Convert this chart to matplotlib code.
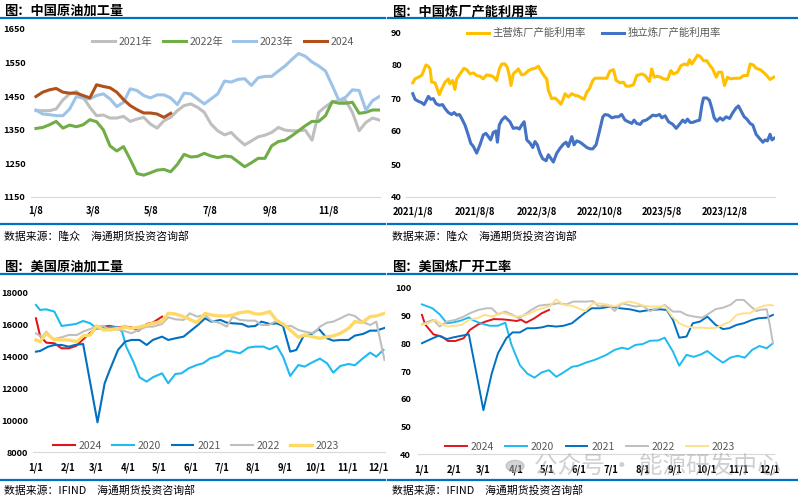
import numpy as np
import pandas as pd
import matplotlib
matplotlib.use("Agg")
import matplotlib.pyplot as plt
from matplotlib.lines import Line2D

plt.rcParams["font.family"] = ["Noto Sans CJK SC", "DejaVu Sans"]

# ---------------- data ----------------
# China crude runs (weekly, from 1/8)
cn_runs_2021 = [1407, 1407, 1407, 1412, 1439, 1457, 1464, 1447, 1417, 1392, 1394, 1385, 1385, 1390, 1375, 1382,
                1387, 1367, 1355, 1377, 1387, 1407, 1422, 1427, 1417, 1402, 1367, 1347, 1335, 1342, 1322, 1305,
                1317, 1329, 1334, 1342, 1357, 1349, 1347, 1347, 1349, 1319, 1402, 1419, 1432, 1437, 1437, 1402,
                1347, 1372, 1385, 1379]
cn_runs_2022 = [1354, 1357, 1365, 1375, 1355, 1364, 1359, 1365, 1380, 1374, 1350, 1302, 1287, 1300, 1262, 1220,
                1215, 1222, 1230, 1232, 1225, 1247, 1277, 1269, 1271, 1280, 1272, 1267, 1272, 1270, 1255, 1240,
                1252, 1265, 1265, 1302, 1315, 1319, 1332, 1347, 1362, 1375, 1375, 1392, 1434, 1429, 1429, 1432,
                1399, 1402, 1409, 1409]
cn_runs_2023 = [1409, 1397, 1395, 1392, 1392, 1412, 1449, 1444, 1442, 1452, 1457, 1442, 1419, 1432, 1472, 1467,
                1452, 1445, 1454, 1454, 1445, 1425, 1459, 1457, 1442, 1427, 1442, 1457, 1495, 1492, 1500, 1502,
                1482, 1505, 1509, 1509, 1525, 1540, 1559, 1577, 1569, 1552, 1540, 1525, 1482, 1437, 1447, 1469,
                1467, 1409, 1437, 1449]
cn_runs_2024 = [1449, 1462, 1469, 1473, 1462, 1459, 1459, 1452, 1445, 1484, 1479, 1475, 1462, 1440, 1422, 1410,
                1400, 1400, 1397, 1387, 1399]
cn_runs_ticks = ["1/8", "3/8", "5/8", "7/8", "9/8", "11/8"]

# China refinery utilisation (weeks since 2021/1/8)
main_wk = [0, 1.1, 2.7, 4.3, 5.5, 6.4, 7.6, 8.4, 9.2, 10.8, 11.6, 12.9, 14.1, 15.7, 17.3, 18.1, 19.4, 20.5, 21.4,
           23.0, 24.9, 26.2, 27.9, 29.5, 31.1, 32.7, 34.3, 35.9, 37.9, 39.5, 40.8, 42.1, 43.3, 44.9, 46.0, 47.0,
           47.8, 48.9, 50.6, 51.4, 53.0, 54.6, 56.3, 57.9, 59.5, 61.1, 62.8, 64.4, 65.2, 66.0, 67.6, 69.3, 70.9,
           72.0, 73.3, 74.1, 75.7, 77.4, 79.0, 80.6, 82.2, 83.4, 84.7, 86.0, 87.6, 88.7,
           91.2, 94.4, 96.0, 97.7, 99.0, 100.9, 102.5, 103.8, 105.5, 107.4, 109.0, 111.5, 113.1, 115.2, 116.3,
           117.5, 118.8, 120.7, 122.0, 124.0, 125.6, 126.9, 128.8, 130.5, 132.1, 133.7, 134.7, 135.8, 137.4,
           138.6, 139.9, 141.5, 143.1, 144.7, 146.0, 147.7, 148.8, 150.4, 151.7, 153.2, 154.8, 156.9, 159.3,
           160.9, 162.9, 164.2, 165.8, 167.1, 169.1, 170.7, 172.3, 173.9, 175.6]
main_val = [74.6, 75.8, 76.3, 76.8, 78.6, 80, 79.6, 78.8, 74.8, 74.6, 73.3, 71, 72.8, 74.8, 75.8, 74.3, 75.3, 72.6,
            75.8, 77.3, 79.0, 78.6, 77.3, 77.6, 76.8, 76.6, 75.8, 77, 76.8, 76.3, 75.3, 78.8, 80.3, 80.3, 79.3,
            76.8, 73.8, 77.3, 78.3, 78.8, 77, 77.3, 78.3, 78.8, 79, 79.6, 77.8, 76.3, 75.8, 72.3, 69.8, 70, 69,
            68.1, 69.8, 71.3, 70.3, 71.3, 70.8, 70.6, 70, 69.6, 71.8, 72.8, 75.3, 76,
            76, 76, 78.2, 78.6, 75.3, 74.6, 74.8, 73.6, 73.6, 74, 76.8, 77.3, 76.8, 75, 78.8, 76.3, 76.6, 76.3,
            75.8, 75.6, 78.3, 77.3, 77.8, 79.8, 80.3, 80, 81.6, 80.3, 81.8, 83, 82.6, 81.3, 81.3, 79.8, 78.8,
            76.3, 77.8, 77.8, 73.8, 76.3, 75.8, 76, 76, 76.8, 76.8, 80.3, 80, 79, 78.6, 77.8, 76.8, 75.6, 76.3]
ind_wk = [0, 1.1, 2.7, 4.3, 5.5, 6.4, 7.6, 8.7, 10.0, 11.3, 12.9, 14.5, 15.7, 17.3, 18.9, 20.1, 21.4, 22.7, 23.8,
          25.4, 27.0, 28.2, 29.5, 31.1, 32.7, 34.3, 35.6, 36.8, 37.9, 39.2, 40.5, 41.2, 42.1, 43.3, 44.9, 46.0,
          47.3, 48.9, 50.6, 51.9, 53.0, 54.2, 55.5, 57.1, 58.4, 59.5, 60.6, 61.9, 63.2, 64.9, 66.0, 67.1, 68.4,
          70.1, 71.7, 73.3, 74.6, 75.7, 77.4, 78.5, 79.8, 81.4, 83.1, 84.7, 86.3, 87.6, 89.2, 90.8,
          92.5, 93.6, 95.2, 96.9, 98.5, 100.1, 101.7, 103.3, 104.9, 106.6, 107.7, 109.0, 110.7, 111.9, 113.6,
          115.2, 116.8, 118.4, 120.1, 121.2, 122.8, 124.5, 126.6, 128.2, 129.8, 131.4, 132.6, 133.7, 135.0,
          136.3, 137.9, 139.6, 140.7, 141.5, 143.1, 144.4, 145.6, 146.7, 148.0, 149.6, 150.9, 152.5, 154.2,
          155.8, 157.4, 158.5, 160.2, 161.3, 162.6, 164.2, 165.5, 167.1, 168.7, 170.4, 171.5, 172.6, 173.9,
          174.8, 175.9]
ind_val = [71.3, 69.6, 69, 68.6, 68, 69, 70.5, 69.6, 69.8, 68.3, 67.8, 68, 66.8, 65.6, 65, 65.6, 64.8, 65, 63.8,
           61.8, 58.8, 56.3, 55.3, 53.3, 55.8, 58.8, 59.3, 58.3, 57.3, 59.6, 60, 56.6, 61.8, 63.3, 64.3, 63.6,
           62.8, 60.8, 61, 60.6, 61.8, 62.8, 57.3, 56.3, 55, 56.8, 55.8, 53.3, 51.6, 51, 52.8, 51.8, 50.6, 53.3,
           54.8, 56, 56.6, 55.3, 58.3, 55.8, 57, 56.6, 55.8, 55, 54.6, 54.6, 55.8, 59.8,
           64.3, 65, 64.8, 64, 64.3, 64.3, 65, 63.3, 62.8, 62.3, 63.3, 62.3, 62, 63, 63.3, 64, 64.8, 64.6, 65,
           64, 64.6, 62.8, 62, 60.8, 62, 63.3, 62.6, 63.6, 62.6, 62.6, 63, 63.3, 67.8, 70, 70, 69.3, 66.8, 64,
           63, 64, 63.3, 64.3, 63.8, 65.6, 67, 67.6, 65.6, 64.3, 63.6, 62.3, 61.8, 59, 57.8, 56.6, 57.3, 57,
           59, 57.3, 57.8]
util_ticks = ["2021/1/8", "2021/8/8", "2022/3/8", "2022/10/8", "2023/5/8", "2023/12/8"]

# US crude runs (day of year)
us_runs_2020_day = [0, 4, 10, 18, 25, 32, 39, 46, 53, 59, 66, 72, 79, 84, 88, 95, 101, 108, 114, 123, 129, 136,
                    142, 149, 157, 163, 170, 178, 186, 192, 199, 207, 214, 222, 228, 235, 241, 248, 256, 262,
                    269, 277, 284, 290, 297, 305, 311, 319, 326, 332, 339]
us_runs_2020 = [17208, 16896, 16937, 16792, 15896, 15958, 16021, 16208, 16062, 15750, 15687, 15812, 15812, 15541,
                14604, 13667, 12687, 12417, 12687, 12937, 12312, 12896, 12937, 13250, 13458, 13562, 13875, 14021,
                14354, 14292, 14187, 14542, 14604, 14604, 14437, 14646, 13979, 12771, 13458, 13354, 13604, 13854,
                13562, 12979, 13396, 13521, 13437, 13875, 14229, 13979, 14396]
us_runs_2021_day = [0, 4, 12, 18, 25, 32, 38, 46, 60, 67, 72, 80, 87, 93, 101, 108, 114, 123, 129, 136, 144, 150,
                    158, 165, 171, 180, 186, 192, 201, 207, 214, 220, 228, 235, 241, 248, 254, 261, 269, 276,
                    284, 290, 297, 305, 311, 319, 326, 332, 340]
us_runs_2021 = [14292, 14333, 14604, 14708, 14708, 14604, 14708, 14771, 9875, 12312, 13146, 14396, 14917, 15021,
                15021, 14708, 15021, 15229, 15021, 15125, 15229, 15541, 15958, 16375, 16167, 16271, 16104, 16062,
                16021, 15854, 15896, 16167, 16021, 16062, 15896, 14292, 14396, 15271, 15396, 15708, 15125, 14979,
                15021, 15021, 15292, 15396, 15604, 15604, 15771]
us_runs_2022_day = [0, 6, 10, 17, 25, 32, 40, 46, 53, 59, 66, 72, 79, 85, 93, 100, 108, 114, 123, 129, 136, 144,
                    150, 157, 165, 171, 180, 186, 192, 199, 207, 214, 220, 227, 235, 243, 249, 256, 262, 271,
                    277, 284, 290, 297, 305, 311, 318, 326, 332, 340]
us_runs_2022 = [15437, 15187, 15541, 15062, 15187, 15333, 15333, 15541, 15708, 15854, 15896, 15646, 15687, 15604,
                15437, 15646, 15854, 15854, 16021, 16437, 16312, 16271, 16687, 16479, 16583, 16229, 16062, 15854,
                16479, 16271, 16229, 16229, 15958, 15958, 16229, 15896, 15896, 15646, 15541, 15437, 15854, 16104,
                16167, 16375, 16625, 16521, 16167, 15958, 16167, 13771]
us_runs_2023_day = [0, 4, 10, 17, 25, 32, 40, 46, 53, 59, 66, 72, 79, 87, 93, 100, 108, 114, 123, 129, 136, 142,
                    150, 157, 165, 171, 179, 186, 192, 199, 207, 214, 220, 228, 235, 241, 248, 256, 262, 269,
                    277, 284, 290, 297, 305, 311, 318, 326, 332, 340]
us_runs_2023 = [15021, 14917, 15437, 15062, 15021, 15021, 14917, 15271, 15333, 15896, 15646, 15646, 15729, 15812,
                15750, 15812, 15958, 16062, 16167, 16687, 16646, 16521, 16312, 16104, 16687, 16583, 16521, 16521,
                16583, 16729, 16792, 16646, 16646, 16792, 16229, 16021, 15646, 15187, 15333, 15229, 15125, 15229,
                15271, 15437, 15750, 16167, 16104, 16479, 16521, 16687]
us_runs_2024_day = [0, 4, 10, 18, 25, 32, 39, 46, 53, 59, 66, 72, 79, 87, 93, 100, 108, 114, 123]
us_runs_2024 = [16375, 15271, 14854, 14812, 14500, 14500, 14646, 15062, 15479, 15750, 15854, 15896, 15812, 15854,
                15812, 15604, 16021, 16104, 16479]

# US refinery utilisation (day of year)
us_util_2020_day = [0, 10, 17, 24, 30, 37, 45, 49, 56, 65, 73, 80, 86, 94, 101, 108, 115, 122, 129, 136, 144, 150,
                    158, 165, 169, 177, 185, 192, 198, 205, 212, 219, 227, 233, 241, 247, 254, 261, 268, 274,
                    282, 289, 296, 303, 310, 317, 324, 331, 337]
us_util_2020 = [94, 92.6, 90.4, 87.2, 87.5, 88.1, 89.3, 88.3, 87.2, 86.3, 86.3, 87.4, 79.4, 72.1, 69.1, 67.6, 69.5,
                70.3, 67.9, 69.5, 71.5, 71.9, 73.1, 73.9, 74.5, 75.8, 77.6, 78.4, 77.9, 79.4, 79.7, 80.9, 81, 82,
                77, 71.9, 75.8, 75.1, 76, 77.2, 74.8, 73, 74.8, 75.5, 74.8, 77.6, 79, 78.2, 80]
us_util_2021_day = [0, 8, 16, 24, 30, 38, 45, 52, 59, 67, 73, 81, 87, 94, 101, 108, 115, 121, 129, 136, 144, 150,
                    157, 163, 171, 181, 190, 200, 209, 219, 229, 235, 241, 247, 254, 260, 267, 274, 282, 289,
                    295, 302, 309, 317, 323, 331, 337]
us_util_2021 = [80, 81.4, 82.7, 81.5, 82.1, 82.7, 83.2, 69.7, 55.9, 69.1, 76.4, 81.8, 83.9, 83.9, 85.4, 85.4, 85.7,
                86.3, 86, 86.3, 87.2, 89, 91.1, 92.6, 92.6, 93.2, 92.6, 92.2, 91.4, 92, 92.2, 92, 88.4, 82, 82.4,
                87.2, 87.8, 89.6, 86.6, 85.1, 85.4, 86.6, 87.2, 88.4, 89, 89.2, 90.2]
us_util_2022_day = [0, 6, 11, 17, 24, 32, 40, 46, 54, 62, 67, 73, 80, 86, 93, 99, 105, 112, 118, 125, 131, 139,
                    145, 152, 158, 164, 170, 175, 181, 185, 192, 198, 205, 212, 219, 227, 233, 241, 248, 254,
                    261, 269, 276, 282, 289, 296, 302, 309, 315, 321, 326, 331, 334, 337]
us_util_2022 = [86.8, 87.8, 88.4, 86, 87.8, 88.4, 89.6, 90.8, 92, 92.6, 92.6, 90.4, 91.4, 90.4, 89, 90.4, 92, 93.5,
                93.8, 94, 94.4, 94, 95, 95, 95, 95.2, 93.2, 93.5, 93.2, 91.6, 94.4, 93.8, 93.2, 93.5, 91.6, 92.6,
                93.8, 91.4, 91.4, 90.2, 89.6, 89.2, 90.8, 92.3, 92.8, 93.8, 95.6, 95.6, 93.5, 91.6, 92.1, 92.2,
                86.6, 80]
us_util_2023_day = [0, 6, 13, 19, 25, 32, 38, 45, 53, 60, 68, 76, 83, 89, 97, 104, 110, 116, 123, 129, 136, 144,
                    150, 157, 164, 170, 177, 185, 192, 199, 206, 213, 221, 229, 233, 240, 247, 254, 261, 269,
                    276, 283, 290, 296, 302, 309, 315, 322, 328, 334, 338]
us_util_2023 = [86.6, 87.2, 88.4, 86.8, 86, 86.3, 86.6, 88.4, 89, 90.2, 89.6, 91.1, 90.4, 89.6, 89.9, 90.8, 92,
                92.6, 93.4, 95.8, 93.8, 93.5, 92.6, 91.6, 94.4, 94.3, 94, 93.2, 94.4, 95, 94.4, 93.5, 93.2, 93.2,
                93.5, 89.6, 87.2, 86, 85.6, 85.6, 85.4, 85.6, 86.8, 87.8, 90.2, 90.8, 90.8, 92.6, 93.5, 93.8, 93.5]
us_util_2024_day = [0, 3, 11, 19, 25, 32, 40, 46, 54, 61, 69, 77, 83, 91, 95, 100, 108, 115, 122]
us_util_2024 = [90.2, 86.8, 83.2, 82.4, 80.8, 80.8, 81.8, 84.8, 86.8, 87.8, 88.7, 88.6, 88.4, 88, 88.5, 87.4, 89,
                90.8, 92]
month_ticks = ["1/1", "2/1", "3/1", "4/1", "5/1", "6/1", "7/1", "8/1", "9/1", "10/1", "11/1", "12/1"]

# ---------------- layout helpers ----------------
W, H = 798, 500
fig = plt.figure(figsize=(W / 100, H / 100), dpi=100)
BLUE = "#0070C0"


def px_axes(x0, y0, x1, y1):
    return fig.add_axes([x0 / W, 1 - y1 / H, (x1 - x0) / W, (y1 - y0) / H])


def hline(x0, x1, y):
    fig.add_artist(Line2D([x0 / W, x1 / W], [1 - y / H, 1 - y / H], transform=fig.transFigure,
                          color=BLUE, lw=1.6))


def ftext(x, y, s, **kw):
    fig.text(x / W, 1 - y / H, s, va="center", ha="left", **kw)


def frame(x0, x1, y_title, y_line, y_bot, y_src, title, source):
    ftext(x0 + 4, y_title, title, fontsize=9.5, fontweight="bold", color="black")
    hline(x0, x1, y_line)
    hline(x0, x1, y_bot)
    ftext(x0 + 4, y_src, source, fontsize=7.8, color="black")


def style(ax, ypad, xpad):
    for s in ["left", "right", "top"]:
        ax.spines[s].set_visible(False)
    ax.spines["bottom"].set_color("#D9D9D9")
    ax.tick_params(length=0)
    ax.tick_params(axis="y", pad=ypad, labelsize=6.6)
    ax.tick_params(axis="x", pad=xpad, labelsize=6.8)
    for lab in ax.get_xticklabels() + ax.get_yticklabels():
        lab.set_fontweight("bold")


def legend(ax, cx, cy, **kw):
    leg = ax.legend(loc="center", bbox_to_anchor=(cx / W, 1 - cy / H), bbox_transform=fig.transFigure,
                    frameon=False, fontsize=7.5, handletextpad=0.35, borderaxespad=0, **kw)
    for t in leg.get_texts():
        t.set_color("#595959")
    return leg


frame(0, 385, 11, 18, 224, 236, "图：中国原油加工量", "数据来源：隆众　海通期货投资咨询部")
frame(388, 798, 11, 18, 224, 236, "图：中国炼厂产能利用率", "数据来源：隆众　海通期货投资咨询部")
frame(0, 385, 267, 274, 480, 490, "图：美国原油加工量", "数据来源：IFIND　海通期货投资咨询部")
frame(388, 798, 267, 274, 480, 490, "图：美国炼厂开工率", "数据来源：IFIND　海通期货投资咨询部")

# ---------------- top-left: China crude runs ----------------
ax1 = px_axes(31, 29, 380, 197)
ax1.plot(np.arange(len(cn_runs_2021)), cn_runs_2021, color="#BFBFBF", lw=2.2, label="2021年")
ax1.plot(np.arange(len(cn_runs_2022)), cn_runs_2022, color="#70AD47", lw=2.2, label="2022年")
ax1.plot(np.arange(len(cn_runs_2023)), cn_runs_2023, color="#9DC3E6", lw=2.2, label="2023年")
ax1.plot(np.arange(len(cn_runs_2024)), cn_runs_2024, color="#B0501A", lw=2.2, label="2024")
ax1.set_ylim(1150, 1650)
ax1.set_yticks(np.arange(1150, 1651, 100))
ax1.set_xlim(-0.74, 51.1)
tick_dates = pd.to_datetime(["2023-" + t.replace("/", "-") for t in cn_runs_ticks], format="%Y-%m-%d")
ax1.set_xticks((tick_dates - pd.Timestamp("2023-01-08")).days / 7)
ax1.set_xticklabels(cn_runs_ticks)
style(ax1, 4, 6)
legend(ax1, 223, 42, ncol=4, handlelength=2.2, columnspacing=1.0)

# ---------------- top-right: China refinery utilisation ----------------
ax2 = px_axes(406, 32, 775, 197)
ax2.plot(main_wk, main_val, color="#FFC000", lw=2.2, label="主营炼厂产能利用率")
ax2.plot(ind_wk, ind_val, color="#4472C4", lw=2.2, label="独立炼厂产能利用率")
ax2.set_ylim(40, 90)
ax2.set_yticks(np.arange(40, 91, 10))
ax2.set_xlim(-3.3, 176.3)
util_dates = pd.to_datetime(util_ticks, format="%Y/%m/%d")
ax2.set_xticks((util_dates - util_dates[0]).days / 7)
ax2.set_xticklabels(util_ticks)
style(ax2, 3, 7)
legend(ax2, 594, 33, ncol=2, handlelength=2.1, columnspacing=1.6)

# ---------------- bottom-left: US crude runs ----------------
month_days = [0, 31, 59, 90, 120, 151, 181, 212, 243, 273, 304, 334]
ax3 = px_axes(33, 292.3, 385, 452.3)
ax3.plot(us_runs_2024_day, us_runs_2024, color="#E0161C", lw=1.5, label="2024")
ax3.plot(us_runs_2020_day, us_runs_2020, color="#1EBBF0", lw=1.5, label="2020")
ax3.plot(us_runs_2021_day, us_runs_2021, color="#0070C0", lw=1.5, label="2021")
ax3.plot(us_runs_2022_day, us_runs_2022, color="#BFBFBF", lw=1.5, label="2022")
ax3.plot(us_runs_2023_day, us_runs_2023, color="#FFD966", lw=2.4, label="2023")
ax3.set_ylim(8000, 18000)
ax3.set_yticks(np.arange(8000, 18001, 2000))
ax3.set_xlim(-2.9, 340.5)
ax3.set_xticks(month_days)
ax3.set_xticklabels(month_ticks)
style(ax3, 3.5, 7.5)
legend(ax3, 196, 446, ncol=5, handlelength=2.1, columnspacing=1.0)

# ---------------- bottom-right: US refinery utilisation ----------------
ax4 = px_axes(418, 287.7, 774, 454.3)
ax4.plot(us_util_2024_day, us_util_2024, color="#E0161C", lw=1.4, label="2024")
ax4.plot(us_util_2020_day, us_util_2020, color="#1EBBF0", lw=1.4, label="2020")
ax4.plot(us_util_2021_day, us_util_2021, color="#0070C0", lw=1.4, label="2021")
ax4.plot(us_util_2022_day, us_util_2022, color="#BFBFBF", lw=1.4, label="2022")
ax4.plot(us_util_2023_day, us_util_2023, color="#FFE08A", lw=1.4, label="2023")
ax4.set_ylim(40, 100)
ax4.set_yticks(np.arange(40, 101, 10))
ax4.set_xlim(-3.8, 338)
ax4.set_xticks(month_days)
ax4.set_xticklabels(month_ticks)
style(ax4, 5, 7.5)
legend(ax4, 590, 447, ncol=5, handlelength=2.1, columnspacing=1.1)

# watermark
fig.add_artist(plt.Circle((515 / W, 1 - 466 / H), 9 / W, transform=fig.transFigure,
                          color="#B0B0B0", alpha=0.55))
ftext(534, 466, "公众号 · 能源研发中心", fontsize=17, color="#A0A0A0", alpha=0.5)

fig.savefig("out.png", dpi=100)
